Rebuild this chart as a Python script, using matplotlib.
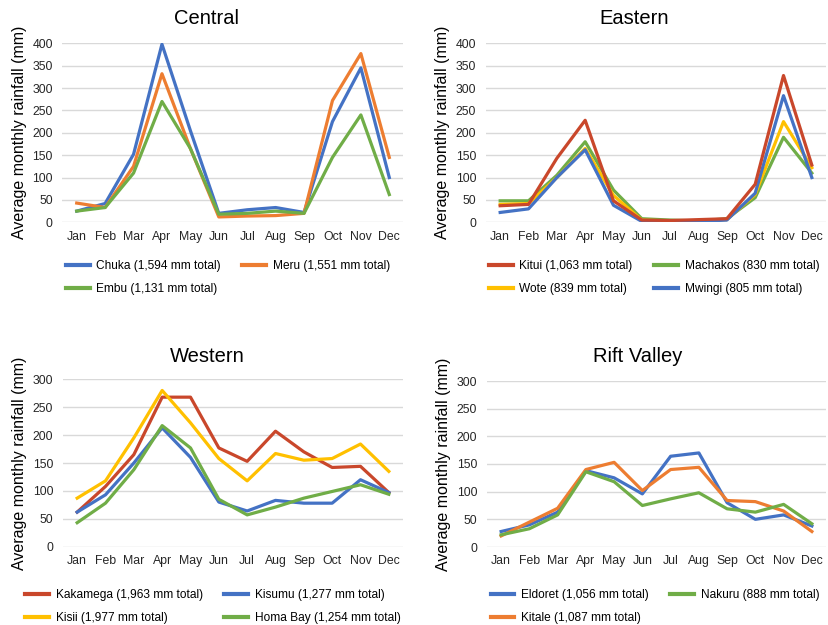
import matplotlib
matplotlib.use('Agg')
import matplotlib.pyplot as plt

plt.rcParams['font.family'] = ['Liberation Sans', 'DejaVu Sans']

months = ["Jan", "Feb", "Mar", "Apr", "May", "Jun", "Jul", "Aug", "Sep", "Oct", "Nov", "Dec"]

# Central
chuka = [25, 42, 152, 398, 205, 20, 28, 33, 22, 225, 345, 100]
meru = [43, 33, 125, 332, 165, 12, 14, 15, 20, 272, 377, 145]
embu = [25, 33, 110, 270, 165, 18, 20, 25, 20, 145, 240, 62]

# Eastern
kitui = [37, 40, 143, 228, 48, 5, 4, 6, 8, 85, 328, 128]
machakos = [48, 48, 105, 180, 72, 8, 5, 3, 8, 55, 190, 110]
wote = [40, 42, 100, 165, 60, 5, 3, 3, 6, 62, 225, 122]
mwingi = [22, 30, 100, 162, 38, 2, 2, 2, 5, 65, 283, 100]

# Western
kakamega = [62, 108, 165, 268, 268, 177, 153, 207, 170, 142, 144, 97]
kisumu = [62, 93, 150, 213, 160, 80, 64, 83, 78, 78, 120, 97]
kisii = [87, 118, 195, 280, 222, 158, 118, 167, 155, 158, 184, 135]
homa_bay = [43, 78, 138, 217, 177, 85, 57, 71, 87, 99, 111, 94]

# Rift Valley
eldoret = [28, 40, 63, 138, 125, 96, 164, 170, 80, 50, 58, 38]
kitale = [20, 45, 70, 140, 153, 102, 140, 144, 84, 82, 65, 28]
nakuru = [22, 33, 58, 136, 118, 75, 87, 98, 69, 63, 77, 42]

BLUE = "#4472C4"
ORANGE = "#ED7D31"
GREEN = "#70AD47"
RED = "#C9472B"
GOLD = "#FFC000"

W, H = 829, 625
fig = plt.figure(figsize=(W / 100, H / 100), dpi=100)


def px_axes(x0, y0, x1, y1):
    return fig.add_axes([x0 / W, 1 - y1 / H, (x1 - x0) / W, (y1 - y0) / H])


def draw_panel(ax, title, title_xy, series, ymax, legend_order, legend_xy):
    x = list(range(len(months)))
    handles = {}
    for label, vals, color in series:
        (ln,) = ax.plot(x, vals, color=color, linewidth=2.3, label=label)
        handles[label] = ln
    ax.set_xlim(-0.5, 11.5)
    ax.set_ylim(0, ymax)
    ax.set_yticks(range(0, ymax + 1, 50))
    ax.set_xticks(x)
    ax.set_xticklabels(months)
    ax.grid(axis='y', color="#D9D9D9", linewidth=1)
    ax.set_axisbelow(True)
    for s in ax.spines.values():
        s.set_visible(False)
    ax.tick_params(length=0, labelsize=8.8, colors="#262626")
    ax.tick_params(axis='y', pad=7)
    ax.tick_params(axis='x', pad=6)
    ax.set_ylabel("Average monthly rainfall (mm)", fontsize=11.5, labelpad=4)
    fig.text(title_xy[0] / W, 1 - title_xy[1] / H, title, fontsize=14.5,
             ha='center', va='center')
    hs = [handles[k] for k in legend_order]
    leg = ax.legend(hs, legend_order, loc='upper center',
                    bbox_to_anchor=(legend_xy[0] / W, 1 - legend_xy[1] / H),
                    bbox_transform=fig.transFigure,
                    ncol=2, frameon=False, fontsize=8.6, handlelength=2.0,
                    handletextpad=0.55, columnspacing=1.8, labelspacing=0.9,
                    borderpad=0, borderaxespad=0)
    for ln in leg.get_lines():
        ln.set_linewidth(3)


ax1 = px_axes(62.5, 43.3, 403.5, 222.3)
draw_panel(ax1, "Central", (207, 18),
           [("Chuka (1,594 mm total)", chuka, BLUE),
            ("Meru (1,551 mm total)", meru, ORANGE),
            ("Embu (1,131 mm total)", embu, GREEN)],
           400,
           ["Chuka (1,594 mm total)", "Embu (1,131 mm total)", "Meru (1,551 mm total)"],
           (228, 260))

ax2 = px_axes(486, 43.3, 826, 222.3)
draw_panel(ax2, "Eastern", (634, 18),
           [("Machakos (830 mm total)", machakos, GREEN),
            ("Wote (839 mm total)", wote, GOLD),
            ("Mwingi (805 mm total)", mwingi, BLUE),
            ("Kitui (1,063 mm total)", kitui, RED)],
           400,
           ["Kitui (1,063 mm total)", "Wote (839 mm total)",
            "Machakos (830 mm total)", "Mwingi (805 mm total)"],
           (654, 260))

ax3 = px_axes(63, 379.3, 403, 546.7)
draw_panel(ax3, "Western", (207, 356),
           [("Kakamega (1,963 mm total)", kakamega, RED),
            ("Kisii (1,977 mm total)", kisii, GOLD),
            ("Kisumu (1,277 mm total)", kisumu, BLUE),
            ("Homa Bay (1,254 mm total)", homa_bay, GREEN)],
           300,
           ["Kakamega (1,963 mm total)", "Kisii (1,977 mm total)",
            "Kisumu (1,277 mm total)", "Homa Bay (1,254 mm total)"],
           (213, 589))

ax4 = px_axes(487, 381, 826, 547)
draw_panel(ax4, "Rift Valley", (638, 357),
           [("Eldoret (1,056 mm total)", eldoret, BLUE),
            ("Kitale (1,087 mm total)", kitale, ORANGE),
            ("Nakuru (888 mm total)", nakuru, GREEN)],
           300,
           ["Eldoret (1,056 mm total)", "Kitale (1,087 mm total)", "Nakuru (888 mm total)"],
           (655, 589))

fig.savefig("out.png", dpi=100, facecolor="white")
